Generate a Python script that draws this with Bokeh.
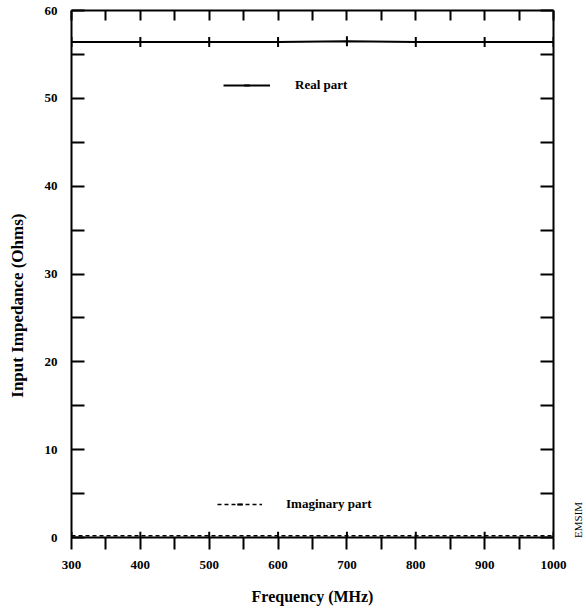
import math
from bokeh.plotting import figure
from bokeh.models import (LinearAxis, FixedTicker, Legend, LegendItem, Label)
from bokeh.embed import file_html
from bokeh.resources import INLINE

# ---- data ----
freq_mhz = [300, 400, 500, 600, 700, 800, 900, 1000]
real_part = [56.4, 56.4, 56.4, 56.4, 56.5, 56.4, 56.4, 56.4]
imag_part = [0.2, 0.2, 0.2, 0.2, 0.2, 0.2, 0.2, 0.2]

x_major = [300, 400, 500, 600, 700, 800, 900, 1000]
x_minor = [350, 450, 550, 650, 750, 850, 950]
y_major = [0, 10, 20, 30, 40, 50, 60]
y_minor = [5, 15, 25, 35, 45, 55]

FONT = "Liberation Serif"

p = figure(frame_width=482, frame_height=527, x_range=(300, 1000), y_range=(0, 60),
           output_backend="svg", toolbar_location=None,
           min_border_left=71, min_border_top=10, min_border_right=31, min_border_bottom=0,
           x_axis_location=None, y_axis_location=None)
p.xgrid.visible = False
p.ygrid.visible = False
p.outline_line_color = None
p.background_fill_color = "white"

def style_axis(ax):
    ax.axis_line_color = "black"
    ax.axis_line_width = 2
    ax.major_tick_line_color = "black"
    ax.minor_tick_line_color = "black"
    ax.major_tick_line_width = 2
    ax.minor_tick_line_width = 2
    ax.major_label_text_font = FONT
    ax.major_label_text_font_style = "bold"
    ax.major_label_text_font_size = "13px"
    ax.major_label_text_color = "black"
    ax.axis_label_text_font = FONT
    ax.axis_label_text_font_style = "bold"
    ax.axis_label_text_font_size = "16px"
    ax.axis_label_text_color = "black"

# bottom axis: outward ticks every 50, labels every 100
xb = LinearAxis(ticker=FixedTicker(ticks=x_major, minor_ticks=x_minor),
                axis_label="Frequency (MHz)")
style_axis(xb)
xb.major_tick_in = 0
xb.major_tick_out = 12
xb.minor_tick_in = 0
xb.minor_tick_out = 12
xb.major_label_standoff = 11
xb.axis_label_standoff = 16
p.add_layout(xb, "below")

# top axis: inward ticks, no labels
xt = LinearAxis(ticker=FixedTicker(ticks=x_major + x_minor, minor_ticks=[]))
style_axis(xt)
xt.major_tick_in = 10
xt.major_tick_out = 0
xt.major_label_text_font_size = "1px"
xt.major_label_text_color = None
xt.major_label_standoff = 0
p.add_layout(xt, "above")

# left axis: inward ticks every 5, labels every 10
yl = LinearAxis(ticker=FixedTicker(ticks=y_major, minor_ticks=y_minor))
style_axis(yl)
yl.major_tick_in = 13
yl.major_tick_out = 0
yl.minor_tick_in = 13
yl.minor_tick_out = 0
yl.major_label_standoff = 14
p.add_layout(yl, "left")

# right axis: inward ticks, no labels
yr = LinearAxis(ticker=FixedTicker(ticks=y_major + y_minor, minor_ticks=[]))
style_axis(yr)
yr.major_tick_in = 13
yr.major_tick_out = 0
yr.major_label_text_font_size = "1px"
yr.major_label_text_color = None
yr.major_label_standoff = 0
p.add_layout(yr, "right")

# series
r_line = p.line(freq_mhz, real_part, line_color="black", line_width=2)
r_mark = p.scatter(freq_mhz, real_part, marker="dash", angle=math.pi / 2, size=10,
                   line_color="black", line_width=2)
i_line = p.line(freq_mhz, imag_part, line_color="black", line_width=1.6, line_dash="4 3")
i_mark = p.scatter(freq_mhz, imag_part, marker="dash", angle=math.pi / 2, size=8,
                   line_color="black", line_width=2)

def make_legend(label, renderers, loc, gw, standoff):
    lg = Legend(items=[LegendItem(label=label, renderers=renderers)], location=loc,
                glyph_width=gw, glyph_height=14, label_standoff=standoff,
                padding=0, margin=0, spacing=0,
                border_line_alpha=0, background_fill_alpha=0,
                label_text_font=FONT, label_text_font_style="bold",
                label_text_font_size="13px", label_text_color="black")
    p.add_layout(lg, "center")

make_legend("Real part", [r_line, r_mark], (152, 444), 47, 25)
make_legend("Imaginary part", [i_line, i_mark], (146, 25), 45, 24)

# y-axis title (placed in the left panel, shifted below centre as in the original)
ytitle = Label(x=221.5, y=26.4, text="Input Impedance (Ohms)", angle=math.pi / 2,
               text_align="center", text_baseline="middle", text_font=FONT,
               text_font_style="bold", text_font_size="17px", text_color="black")
p.add_layout(ytitle, "left")

tag = Label(x=1036, y=2, text="EMSIM", angle=math.pi / 2, text_align="center",
            text_baseline="middle", text_font=FONT, text_font_size="11px",
            text_color="black")
p.add_layout(tag, "right")

open("out.html", "w").write(file_html(p, INLINE))
